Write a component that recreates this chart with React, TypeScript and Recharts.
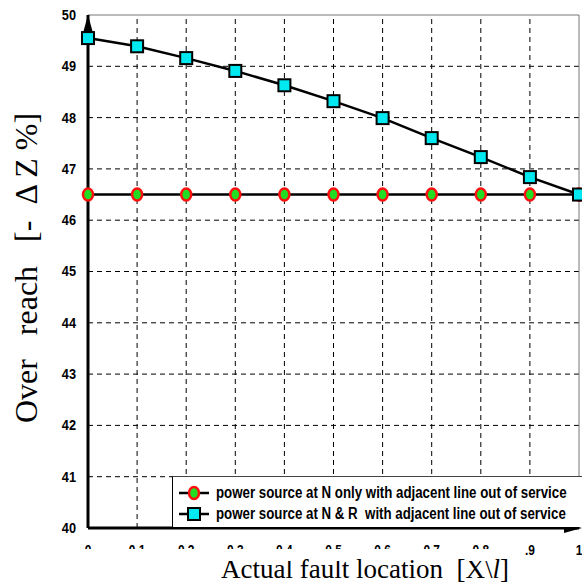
import React from 'react';
import {
    LineChart,
    Line,
    XAxis,
    YAxis,
    ReferenceLine,
    ReferenceDot,
} from 'recharts';

const xValues = [0, 0.1, 0.2, 0.3, 0.4, 0.5, 0.6, 0.7, 0.8, 0.9, 1];
const nOnly = [46.5, 46.5, 46.5, 46.5, 46.5, 46.5, 46.5, 46.5, 46.5, 46.5, 46.5];
const nAndR = [49.55, 49.39, 49.16, 48.91, 48.63, 48.32, 47.99, 47.6, 47.23, 46.84, 46.5];
const yTicks = [40, 41, 42, 43, 44, 45, 46, 47, 48, 49, 50];
const gridX = [0.1, 0.2, 0.3, 0.4, 0.5, 0.6, 0.7, 0.8, 0.9];
const gridY = [41, 42, 43, 44, 45, 46, 47, 48, 49];
const seriesNames = [
    'power source at N only with adjacent line out of service',
    'power source at N & R  with adjacent line out of service',
];

const NARROW = "'Liberation Sans Narrow', 'Arial Narrow', 'Liberation Sans', sans-serif";
const SERIF = "'Liberation Serif', 'Times New Roman', serif";
const GREEN = '#22dd22';
const RED = '#ff1010';
const CYAN = '#00e8f0';

const data = xValues.map((x, i) => ({ x, nOnly: nOnly[i], nAndR: nAndR[i] }));

const RedDot = (props: any) => {
    const { cx, cy } = props;
    if (cx == null || cy == null) return null;
    return <ellipse cx={cx} cy={cy} rx={5} ry={6} fill={GREEN} stroke={RED} strokeWidth={2.5} />;
};

const CyanSquare = (props: any) => {
    const { cx, cy } = props;
    if (cx == null || cy == null) return null;
    return <rect x={cx - 6} y={cy - 6} width={12} height={12} fill={CYAN} stroke="#000" strokeWidth={2} />;
};

// tick labels in the source are mostly cut off, only .9 and 1 show fully
const XTick = (props: any) => {
    const { x, y, payload } = props;
    const v = payload.value;
    const label = v === 0 ? '0' : v === 1 ? '1' : v === 0.9 ? '.9' : v.toFixed(1);
    const cut = v < 0.85;
    return (
        <g>
            <text
                x={x}
                y={y + 19}
                textAnchor="middle"
                fontFamily={NARROW}
                fontWeight="bold"
                fontSize={14}
                fill="#000"
                transform={`translate(${x} 0) scale(0.85 1) translate(${-x} 0)`}
            >
                {label}
            </text>
            {cut && <rect x={x - 14} y={y + 13} width={28} height={12} fill="#fff" />}
        </g>
    );
};

const UpArrow = (props: any) => {
    const { cx, cy } = props;
    return <path d={`M${cx},${cy} L${cx - 5},${cy + 18} L${cx + 5},${cy + 18} Z`} fill="#000" />;
};

const RightArrow = (props: any) => {
    const { cx, cy } = props;
    return <path d={`M${cx + 3},${cy} L${cx - 15},${cy - 5} L${cx - 15},${cy + 5} Z`} fill="#000" />;
};

const YTick = (props: any) => {
    const { x, y, payload } = props;
    return (
        <text
            x={x}
            y={y + 5}
            textAnchor="end"
            fontFamily={NARROW}
            fontWeight="bold"
            fontSize={15}
            fill="#000"
            transform={`translate(${x} 0) scale(0.85 1) translate(${-x} 0)`}
        >
            {payload.value}
        </text>
    );
};

function LegendBox() {
    const markers = [
        <ellipse cx={15} cy={8} rx={5} ry={6} fill={GREEN} stroke={RED} strokeWidth={2.5} />,
        <rect x={9} y={2} width={12} height={12} fill={CYAN} stroke="#000" strokeWidth={2} />,
    ];
    return (
        <div
            style={{
                position: 'absolute',
                left: 172,
                top: 476,
                width: 410,
                height: 51,
                background: '#fff',
                borderLeft: '1px solid #000',
                borderTop: '1px solid #444',
                boxSizing: 'border-box',
                paddingTop: 5,
                overflow: 'hidden',
            }}
        >
            {seriesNames.map((name, i) => (
                <div key={name} style={{ display: 'flex', alignItems: 'center', height: 21, marginLeft: 6 }}>
                    <svg width={30} height={16} style={{ marginRight: 7, flexShrink: 0 }}>
                        <line x1={0} y1={8} x2={30} y2={8} stroke="#000" strokeWidth={2.5} />
                        {markers[i]}
                    </svg>
                    <span
                        style={{
                            fontFamily: NARROW,
                            fontWeight: 'bold',
                            fontSize: 16,
                            whiteSpace: 'pre',
                            color: '#000',
                            display: 'inline-block',
                            flexShrink: 0,
                            transform: 'scaleX(0.83)',
                            transformOrigin: 'left center',
                        }}
                    >
                        {name}
                    </span>
                </div>
            ))}
        </div>
    );
}

function YTitle() {
    return (
        <div
            style={{
                position: 'absolute',
                left: 26,
                top: 268,
                transform: 'translate(-50%, -50%) rotate(-90deg)',
                fontFamily: SERIF,
                fontSize: 32,
                lineHeight: '36px',
                whiteSpace: 'pre',
                color: '#000',
            }}
        >
            {'Over   reach   [-  Δ Z %]'}
        </div>
    );
}

export default function App() {
    return (
        <div style={{ position: 'absolute', left: 0, top: 0, width: 582, height: 585, background: '#fff' }}>
            <LineChart width={582} height={585} data={data} margin={{ top: 15, right: 3, left: 0, bottom: 0 }}>
                {gridX.map((g) => (
                    <ReferenceLine key={'gx' + g} x={g} stroke="#000" strokeDasharray="5 4" strokeWidth={1} />
                ))}
                {gridY.map((g) => (
                    <ReferenceLine key={'gy' + g} y={g} stroke="#000" strokeDasharray="5 4" strokeWidth={1} />
                ))}
                <ReferenceLine y={50} stroke="#777" strokeWidth={1} />
                <ReferenceLine x={1} stroke="#777" strokeWidth={1} />
                <XAxis
                    dataKey="x"
                    type="number"
                    domain={[0, 1]}
                    ticks={xValues}
                    interval={0}
                    height={57}
                    axisLine={{ stroke: '#000', strokeWidth: 3 }}
                    tickLine={false}
                    tick={<XTick />}
                    label={() => (
                        <text x={365} y={578} textAnchor="middle" fontFamily={SERIF} fontSize={27} fill="#000" style={{ whiteSpace: 'pre' }}>
                            {'Actual fault location  [X\\'}<tspan fontStyle="italic">l</tspan>]
                        </text>
                    )}
                />
                <YAxis
                    type="number"
                    domain={[40, 50]}
                    ticks={yTicks}
                    interval={0}
                    width={88}
                    axisLine={{ stroke: '#000', strokeWidth: 3 }}
                    tickLine={false}
                    tick={<YTick />}
                    tickMargin={6}
                />
                <Line
                    dataKey="nOnly"
                    name={seriesNames[0]}
                    stroke="#000"
                    strokeWidth={2.5}
                    dot={<RedDot />}
                    isAnimationActive={false}
                />
                <Line
                    dataKey="nAndR"
                    name={seriesNames[1]}
                    stroke="#000"
                    strokeWidth={2.5}
                    dot={<CyanSquare />}
                    isAnimationActive={false}
                />
                <ReferenceDot x={0} y={50} ifOverflow="visible" shape={<UpArrow />} />
                <ReferenceDot x={1} y={40} ifOverflow="visible" shape={<RightArrow />} />
            </LineChart>
            <YTitle />
            <LegendBox />
        </div>
    );
}
